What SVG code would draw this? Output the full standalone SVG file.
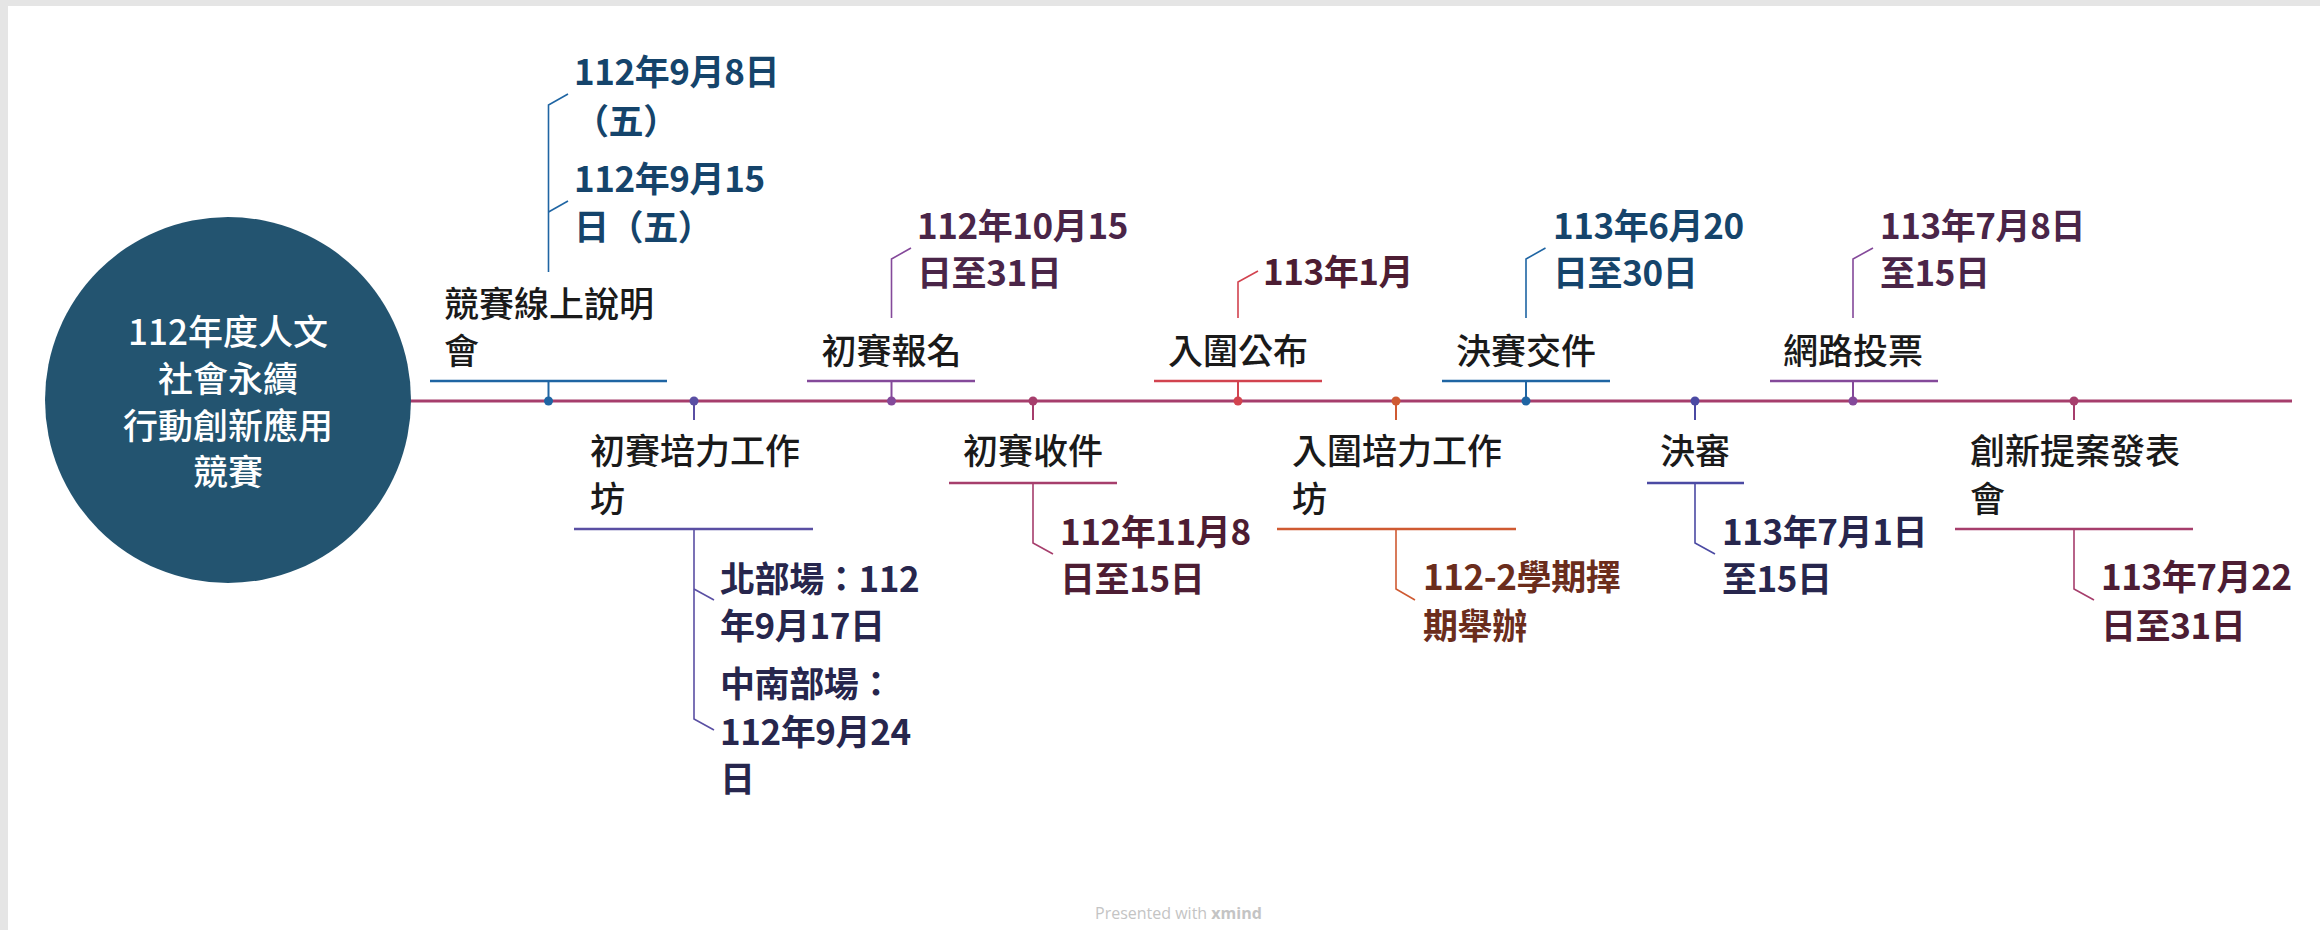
<svg xmlns="http://www.w3.org/2000/svg" width="2320" height="930" viewBox="0 0 2320 930">
<style>
  .lbl { font-family: "Noto Sans CJK TC", "Noto Sans CJK SC", sans-serif; font-size: 35px; font-weight: 500; fill: #1a1a1a; }
  .date { font-family: "Noto Sans CJK TC", "Noto Sans CJK SC", sans-serif; font-size: 35px; font-weight: bold; letter-spacing: -0.4px; }
  .root { font-family: "Noto Sans CJK TC", "Noto Sans CJK SC", sans-serif; font-size: 35px; font-weight: 500; fill: #ffffff; text-anchor: middle; }
  .ul { stroke-width: 2.5; fill: none; }
  .stub { stroke-width: 2; fill: none; }
  .br { stroke-width: 1.6; fill: none; }
  .c-blue { stroke: #1f65a3; }
  .c-indigo { stroke: #5a4fa3; }
  .c-purple { stroke: #84499a; }
  .c-mag { stroke: #a63e6c; }
  .c-red { stroke: #d2434f; }
  .c-orange { stroke: #cf5a32; }
  .c-ind2 { stroke: #4b4aa3; }
  .t-navy { fill: #15446b; }
  .t-dpurple { fill: #4a2548; }
  .t-maroon { fill: #4d1d33; }
  .t-brown { fill: #6b2d1c; }
  .t-dindigo { fill: #27264d; }
  .foot { font-family: "Open Sans", "Liberation Sans", sans-serif; font-size: 16px; fill: #c4c4c4; }
</style>
<rect x="0" y="0" width="2320" height="930" fill="#ffffff"/>
<rect x="0" y="0" width="2320" height="6" fill="#e5e5e5"/>
<rect x="0" y="0" width="8" height="930" fill="#e5e5e5"/>

<g id="connectors">
  <line x1="410" y1="401" x2="2292" y2="401" stroke="#a63e6c" stroke-width="3"/>
  <!-- node 1 -->
  <line class="ul c-blue" x1="430" y1="381" x2="667" y2="381"/>
  <line class="stub c-blue" x1="548.5" y1="381" x2="548.5" y2="401"/>
  <polyline class="br c-blue" points="548.5,272 548.5,105 568,94"/>
  <polyline class="br c-blue" points="548.5,212 568,201"/>
  <circle cx="548.5" cy="401" r="4.5" fill="#1f65a3"/>
  <!-- node 2 -->
  <line class="stub c-indigo" x1="694" y1="401" x2="694" y2="420"/>
  <circle cx="694" cy="401" r="4.5" fill="#5a4fa3"/>
  <line class="ul c-indigo" x1="574" y1="529" x2="813" y2="529"/>
  <polyline class="br c-indigo" points="694,529 694,719 714,730"/>
  <polyline class="br c-indigo" points="694,589 714,600"/>
  <!-- node 3 -->
  <line class="ul c-purple" x1="807" y1="381" x2="975" y2="381"/>
  <line class="stub c-purple" x1="891.5" y1="381" x2="891.5" y2="401"/>
  <circle cx="891.5" cy="401" r="4.5" fill="#84499a"/>
  <polyline class="br c-purple" points="891.5,318 891.5,259 911,248"/>
  <!-- node 4 -->
  <line class="stub c-mag" x1="1033" y1="401" x2="1033" y2="420"/>
  <circle cx="1033" cy="401" r="4.5" fill="#a63e6c"/>
  <line class="ul c-mag" x1="949" y1="483" x2="1117" y2="483"/>
  <polyline class="br c-mag" points="1033,483 1033,543 1053,554"/>
  <!-- node 5 -->
  <line class="ul c-red" x1="1154" y1="381" x2="1322" y2="381"/>
  <line class="stub c-red" x1="1238" y1="381" x2="1238" y2="401"/>
  <circle cx="1238" cy="401" r="4.5" fill="#d2434f"/>
  <polyline class="br c-red" points="1238,318 1238,282 1258,271"/>
  <!-- node 6 -->
  <line class="stub c-orange" x1="1396" y1="401" x2="1396" y2="420"/>
  <circle cx="1396" cy="401" r="4.5" fill="#cf5a32"/>
  <line class="ul c-orange" x1="1277" y1="529" x2="1516" y2="529"/>
  <polyline class="br c-orange" points="1396,529 1396,589 1415,600"/>
  <!-- node 7 -->
  <line class="ul c-blue" x1="1442" y1="381" x2="1610" y2="381"/>
  <line class="stub c-blue" x1="1526" y1="381" x2="1526" y2="401"/>
  <circle cx="1526" cy="401" r="4.5" fill="#1f65a3"/>
  <polyline class="br c-blue" points="1526,318 1526,259 1545.5,248"/>
  <!-- node 8 -->
  <line class="stub c-ind2" x1="1695" y1="401" x2="1695" y2="420"/>
  <circle cx="1695" cy="401" r="4.5" fill="#4b4aa3"/>
  <line class="ul c-ind2" x1="1647" y1="483" x2="1744" y2="483"/>
  <polyline class="br c-ind2" points="1695,483 1695,543 1715,554"/>
  <!-- node 9 -->
  <line class="ul c-purple" x1="1770" y1="381" x2="1938" y2="381"/>
  <line class="stub c-purple" x1="1853" y1="381" x2="1853" y2="401"/>
  <circle cx="1853" cy="401" r="4.5" fill="#84499a"/>
  <polyline class="br c-purple" points="1853,318 1853,259 1873,248"/>
  <!-- node 10 -->
  <line class="stub c-mag" x1="2074" y1="401" x2="2074" y2="420"/>
  <circle cx="2074" cy="401" r="4.5" fill="#a63e6c"/>
  <line class="ul c-mag" x1="1955" y1="529" x2="2193" y2="529"/>
  <polyline class="br c-mag" points="2074,529 2074,589 2094,600"/>
</g>

<g id="root">
  <circle cx="228" cy="400" r="183" fill="#235470"/>
  <text class="root"><tspan x="228" y="345">112年度人文</tspan><tspan x="228" y="392">社會永續</tspan><tspan x="228" y="439">行動創新應用</tspan><tspan x="228" y="485">競賽</tspan></text>
</g>

<g id="n1">
  <text class="lbl"><tspan x="444" y="317">競賽線上說明</tspan><tspan x="444" y="364">會</tspan></text>
</g>
<g id="n1a"><text class="date t-navy"><tspan x="574" y="85">112年9月8日</tspan><tspan x="574" y="134">（五）</tspan></text></g>
<g id="n1b"><text class="date t-navy"><tspan x="574" y="192">112年9月15</tspan><tspan x="574" y="240">日（五）</tspan></text></g>

<g id="n2">
  <text class="lbl"><tspan x="590" y="464">初賽培力工作</tspan><tspan x="590" y="512">坊</tspan></text>
</g>
<g id="n2a"><text class="date t-dindigo"><tspan x="720" y="592">北部場：112</tspan><tspan x="720" y="639">年9月17日</tspan></text></g>
<g id="n2b"><text class="date t-dindigo"><tspan x="720" y="697">中南部場：</tspan><tspan x="720" y="745">112年9月24</tspan><tspan x="720" y="792">日</tspan></text></g>

<g id="n3"><text class="lbl" x="891.5" y="364" text-anchor="middle">初賽報名</text></g>
<g id="n3a"><text class="date t-dpurple"><tspan x="917" y="239">112年10月15</tspan><tspan x="917" y="286">日至31日</tspan></text></g>

<g id="n4"><text class="lbl" x="1033" y="464" text-anchor="middle">初賽收件</text></g>
<g id="n4a"><text class="date t-maroon"><tspan x="1060" y="545">112年11月8</tspan><tspan x="1060" y="592">日至15日</tspan></text></g>

<g id="n5"><text class="lbl" x="1238" y="364" text-anchor="middle">入圍公布</text></g>
<g id="n5a"><text class="date t-maroon" x="1263" y="285">113年1月</text></g>

<g id="n6">
  <text class="lbl"><tspan x="1292" y="464">入圍培力工作</tspan><tspan x="1292" y="512">坊</tspan></text>
</g>
<g id="n6a"><text class="date t-brown"><tspan x="1423" y="590">112-2學期擇</tspan><tspan x="1423" y="639">期舉辦</tspan></text></g>

<g id="n7"><text class="lbl" x="1526" y="364" text-anchor="middle">決賽交件</text></g>
<g id="n7a"><text class="date t-navy"><tspan x="1553" y="239">113年6月20</tspan><tspan x="1553" y="286">日至30日</tspan></text></g>

<g id="n8"><text class="lbl" x="1695" y="464" text-anchor="middle">決審</text></g>
<g id="n8a"><text class="date t-dindigo"><tspan x="1722" y="545">113年7月1日</tspan><tspan x="1722" y="592">至15日</tspan></text></g>

<g id="n9"><text class="lbl" x="1853" y="364" text-anchor="middle">網路投票</text></g>
<g id="n9a"><text class="date t-dpurple"><tspan x="1880" y="239">113年7月8日</tspan><tspan x="1880" y="286">至15日</tspan></text></g>

<g id="n10">
  <text class="lbl"><tspan x="1970" y="464">創新提案發表</tspan><tspan x="1970" y="512">會</tspan></text>
</g>
<g id="n10a"><text class="date t-maroon"><tspan x="2101" y="590">113年7月22</tspan><tspan x="2101" y="639">日至31日</tspan></text></g>

<text class="foot" x="1095" y="919">Presented with <tspan font-weight="bold">xmind</tspan></text>
</svg>
